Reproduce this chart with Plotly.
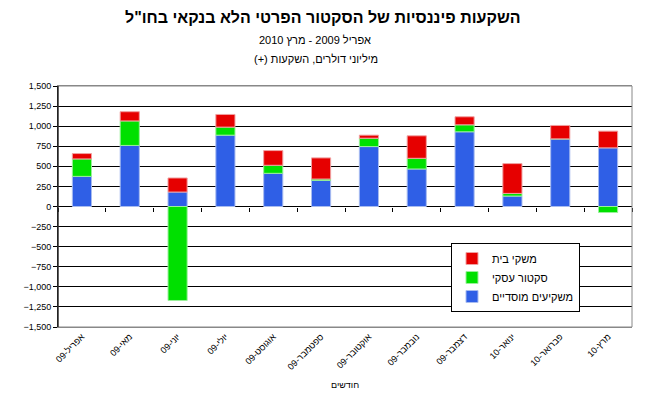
import plotly.graph_objects as go

months = ["אפריל-09", "מאי-09", "יוני-09", "יולי-09", "אוגוסט-09", "ספטמבר-09",
          "אוקטובר-09", "נובמבר-09", "דצמבר-09", "ינואר-10", "פברואר-10", "מרץ-10"]
institutional = [375, 760, 180, 888, 413, 325, 746, 467, 930, 130, 842, 730]
business = [217, 305, -1170, 100, 100, 17, 104, 133, 87, 33, 0, -75]
households = [67, 115, 175, 158, 183, 263, 38, 280, 100, 371, 167, 208]

names = ["משקיעים מוסדיים", "סקטור עסקי", "משקי בית"]
colors = ["#2F5FE6", "#00E000", "#E60000"]
edges = ["#A8BCF0", "#9AF09A", "#F0A0A0"]

FONT = "Liberation Sans, Arial, sans-serif"

# page body has an 8px default margin; compensate so the plot lands where the reference has it
L, T, PW, PH = 50, 78, 574, 241

fig = go.Figure()
for vals, name, c, e in zip([institutional, business, households], names, colors, edges):
    fig.add_trace(go.Bar(x=months, y=vals, name=name,
                         marker=dict(color=c, line=dict(color=e, width=1))))
# helper trace for category-boundary tick marks along the zero line
fig.add_trace(go.Scatter(x=months, y=[0] * len(months), xaxis="x2", mode="none",
                         showlegend=False, hoverinfo="skip"))

def py(screen_y):
    return (T + PH - (screen_y - 8)) / PH

def px(screen_x):
    return ((screen_x - 8) - L) / PW

fig.update_layout(
    width=645, height=399,
    barmode="relative", bargap=0.6,
    plot_bgcolor="white", paper_bgcolor="white",
    margin=dict(l=L, r=645 - L - PW, t=T, b=399 - T - PH),
    font=dict(family=FONT, size=9, color="black"),
    showlegend=True,
    legend=dict(traceorder="reversed", x=px(451), y=py(243), xanchor="left", yanchor="top",
                bgcolor="white", bordercolor="black", borderwidth=1,
                font=dict(size=11, family=FONT), tracegroupgap=4,
                itemwidth=30),
    xaxis2=dict(overlaying="x", anchor="free", position=0.5, side="bottom",
                type="category", categoryarray=months, categoryorder="array",
                range=[-0.5, len(months) - 0.5],
                ticks="outside", ticklen=4, tickcolor="black", tickson="boundaries",
                showticklabels=False, showline=False, showgrid=False, zeroline=False),
    annotations=[
        dict(text="<b>השקעות פיננסיות של הסקטור הפרטי הלא בנקאי בחו\"ל</b>",
             xref="paper", yref="paper", x=px(323), y=py(18),
             showarrow=False, font=dict(size=16, family=FONT), xanchor="center", yanchor="middle"),
        dict(text="אפריל 2009 - מרץ 2010",
             xref="paper", yref="paper", x=px(315), y=py(40),
             showarrow=False, font=dict(size=11, family=FONT), xanchor="center", yanchor="middle"),
        dict(text="מיליוני דולרים, השקעות (+)\u200f",
             xref="paper", yref="paper", x=px(316), y=py(59),
             showarrow=False, font=dict(size=11, family=FONT), xanchor="center", yanchor="middle"),
        dict(text="חודשים",
             xref="paper", yref="paper", x=0.5, y=py(385),
             showarrow=False, font=dict(size=9, family=FONT), xanchor="center", yanchor="middle"),
    ],
)
fig.update_yaxes(range=[-1500, 1500], dtick=250, tickformat=",",
                 showgrid=True, gridcolor="black", gridwidth=1,
                 zeroline=True, zerolinecolor="black", zerolinewidth=1,
                 showline=True, linecolor="black", linewidth=1,
                 ticks="outside", ticklen=4, tickcolor="black",
                 tickfont=dict(size=9, family=FONT))
fig.update_layout(xaxis=dict(showgrid=False, tickangle=-45, tickfont=dict(size=9, family=FONT),
                             showline=True, linecolor="#888888", linewidth=1, mirror=True,
                             ticks=""))
fig.add_shape(type="rect", xref="paper", yref="paper", x0=0, x1=1, y0=0, y1=1,
              line=dict(color="#888888", width=1), layer="above")
fig.add_shape(type="line", xref="paper", yref="paper", x0=0, x1=0, y0=0, y1=1,
              line=dict(color="black", width=1), layer="above")

fig.write_html("out.html")
